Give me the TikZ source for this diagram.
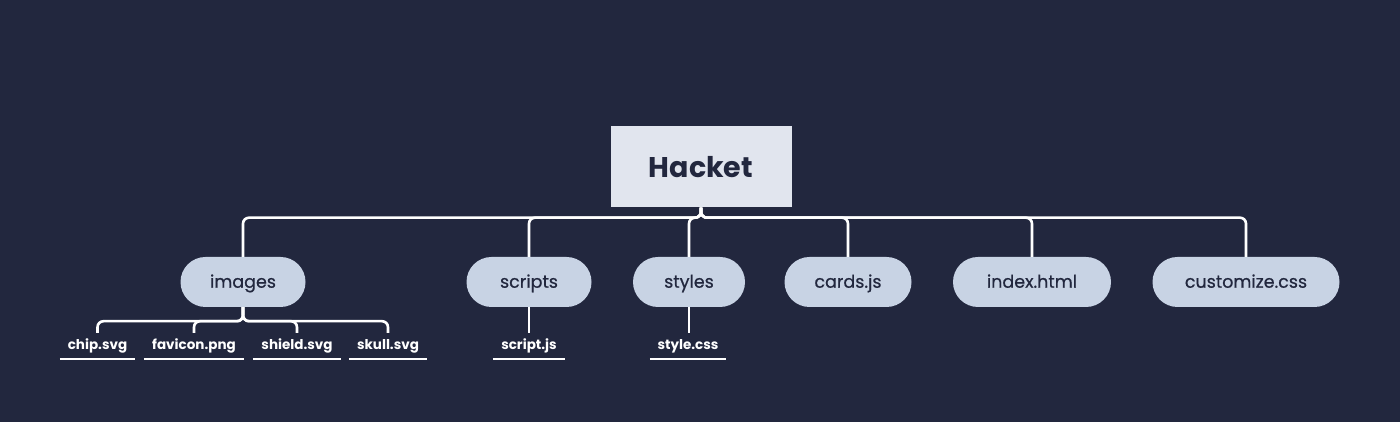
\documentclass[tikz,border=0pt]{standalone}
\usepackage{fontspec}
\setmainfont{Poppins}
\newfontfamily\pillfont{Poppins}[FakeBold=0.6]
\usepackage{tikz}
\usetikzlibrary{positioning}
\definecolor{bgnavy}{RGB}{34,39,62}
\definecolor{rootfill}{RGB}{225,229,238}
\definecolor{pillfill}{RGB}{200,211,228}
\tikzstyle{root} = [rectangle, fill=rootfill, minimum width=181pt, minimum height=81pt, text=bgnavy, font=\fontsize{28.5}{34}\selectfont\bfseries]
\tikzstyle{pill} = [rectangle, rounded corners=25pt, fill=pillfill, minimum height=50pt, text height=14pt, text depth=2.5pt, text=bgnavy, font=\fontsize{17.5}{21}\pillfont]
\tikzstyle{leaf} = [rectangle, inner sep=0pt, minimum height=26pt, text height=10pt, text depth=3pt, text=white, font=\fontsize{13.5}{16}\selectfont\bfseries]
\tikzstyle{link} = [draw=white, line width=2.6pt, rounded corners=6pt]
\tikzstyle{uline} = [draw=white, line width=1.8pt]

\begin{document}
\begin{tikzpicture}[x=1pt,y=1pt]
  \fill[bgnavy] (0,0) rectangle (1400,422);
  \useasboundingbox (0,0) rectangle (1400,422);
  % root folder
  \node[root] (hacket) at (701,255) {Hacket};
  % first level
  \node[pill, minimum width=125pt] (images) at (243,140) {images};
  \node[pill, minimum width=125pt] (scripts) at (529,140) {scripts};
  \node[pill, minimum width=112pt] (styles) at (689,140) {styles};
  \node[pill, minimum width=127pt] (cards) at (848,140) {cards.js};
  \node[pill, minimum width=158pt] (index) at (1032,140) {index.html};
  \node[pill, minimum width=187pt] (custom) at (1246,140) {customize.css};
  % files
  \node[leaf, minimum width=75pt] (chip) at (97.5,76) {chip.svg};
  \node[leaf, minimum width=100pt] (favicon) at (194,76) {favicon.png};
  \node[leaf, minimum width=88pt] (shield) at (297,76) {shield.svg};
  \node[leaf, minimum width=78pt] (skull) at (388,76) {skull.svg};
  \node[leaf, minimum width=72pt] (scriptjs) at (529,76) {script.js};
  \node[leaf, minimum width=76pt] (stylecss) at (688,76) {style.css};
  % connectors
  \foreach \n in {images, scripts, styles, cards, index, custom}
    \draw[link] (hacket.south) -- ++(0,-10) -| (\n.north);
  \foreach \n in {chip, favicon, shield, skull}
    \draw[link] (images.south) -- ++(0,-14) -| (\n.north);
  \draw[link] (scripts.south) -- (scriptjs.north);
  \draw[link] (styles.south) -- (styles.south |- stylecss.north);
  % underlines
  \foreach \n in {chip, favicon, shield, skull, scriptjs, stylecss}
    \draw[uline] (\n.south west) -- (\n.south east);
\end{tikzpicture}
\end{document}
